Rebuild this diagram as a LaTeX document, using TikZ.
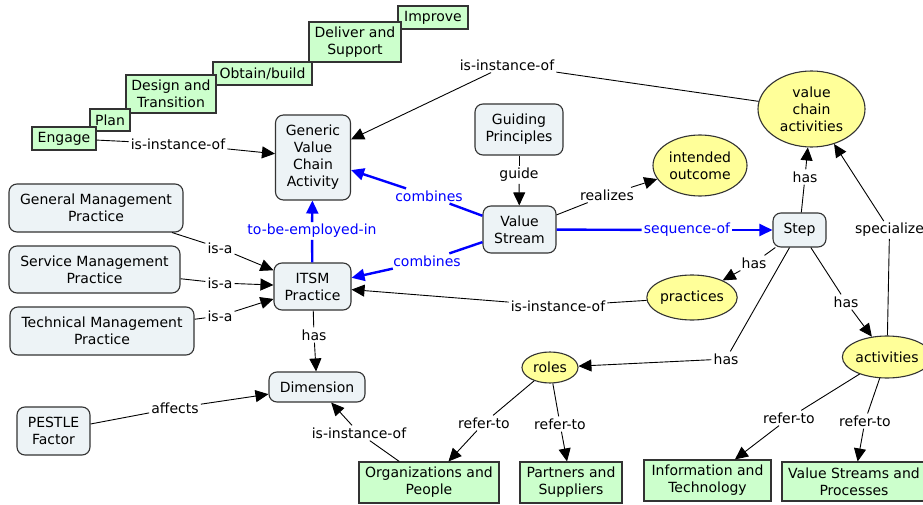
\documentclass[tikz,border=0pt]{standalone}
\usepackage{fontspec}
\setmainfont{DejaVu Sans}
\usetikzlibrary{arrows.meta,shapes.geometric}
\definecolor{conceptfill}{HTML}{EDF3F6}
\definecolor{phasegreen}{HTML}{CCFFCC}
\definecolor{ideayellow}{HTML}{FFFF99}
\definecolor{linkblue}{HTML}{0000FF}
\definecolor{framegray}{HTML}{333333}

\begin{document}
\begin{tikzpicture}[x=1pt,y=-1pt,
  every node/.style={font=\fontsize{14}{17}\selectfont, align=center, inner sep=0pt},
  concept/.style={draw=framegray, line width=1.1pt, fill=conceptfill, rounded corners=8pt},
  phase/.style={draw=framegray, line width=1.1pt, fill=phasegreen},
  idea/.style={draw=framegray, line width=1.1pt, fill=ideayellow, ellipse},
  lbl/.style={fill=white, inner sep=2pt},
  blbl/.style={lbl, text=linkblue},
  link/.style={draw=black, line width=0.9pt},
  arr/.style={link, -{Triangle[length=13pt,width=12pt]}},
  blink/.style={draw=linkblue, line width=2.4pt},
  barr/.style={blink, -{Triangle[length=13pt,width=12pt]}},
]
\path[use as bounding box, fill=white] (0,0) rectangle (923,505);

% value chain phases (staircase)
\node[phase, minimum width=70, minimum height=23] (improve) at (433,17.5) {Improve};
\node[phase, minimum width=92, minimum height=40] (deliver) at (355,42) {Deliver and\\Support};
\node[phase, minimum width=99, minimum height=23] (obtain) at (262.5,73.5) {Obtain/build};
\node[phase, minimum width=90, minimum height=38] (design) at (171,94) {Design and\\Transition};
\node[phase, minimum width=40, minimum height=22] (plan) at (110,120) {Plan};
\node[phase, minimum width=64, minimum height=23] (engage) at (64,138.5) {Engage};

% concepts
\node[concept, minimum width=75, minimum height=85] (gvca) at (313,157.5) {Generic\\Value\\Chain\\Activity};
\node[concept, minimum width=88, minimum height=51] (guiding) at (519,129.5) {Guiding\\Principles};
\node[concept, minimum width=73, minimum height=47] (vstream) at (519.5,229.5) {Value\\Stream};
\node[concept, minimum width=53, minimum height=34] (step) at (799.5,230) {Step};
\node[concept, minimum width=174, minimum height=48] (gmp) at (96,208) {General Management\\Practice};
\node[concept, minimum width=171, minimum height=47] (smp) at (94.5,269.5) {Service Management\\Practice};
\node[concept, minimum width=184, minimum height=48] (tmp) at (102,331) {Technical Management\\Practice};
\node[concept, minimum width=77, minimum height=47] (itsm) at (312.5,286.5) {ITSM\\Practice};
\node[concept, minimum width=96, minimum height=30] (dimension) at (317,387) {Dimension};
\node[concept, minimum width=73, minimum height=48] (pestle) at (53.5,431) {PESTLE\\Factor};

% yellow ideas
\node[idea, minimum width=94, minimum height=61] (outcome) at (700,165.5) {intended\\outcome};
\node[idea, minimum width=107, minimum height=76] (vca) at (811.5,109) {value\\chain\\activities};
\node[idea, minimum width=86, minimum height=45] (practices) at (692,297.5) {practices};
\node[idea, minimum width=56, minimum height=31] (roles) at (550,367.5) {roles};
\node[idea, minimum width=84, minimum height=42] (activities) at (887,357) {activities};

% four dimensions
\node[phase, minimum width=140, minimum height=41] (orgs) at (429,482.5) {Organizations and\\People};
\node[phase, minimum width=102, minimum height=41] (partners) at (571,482.5) {Partners and\\Suppliers};
\node[phase, minimum width=127, minimum height=41] (infotech) at (707.5,480.5) {Information and\\Technology};
\node[phase, minimum width=144, minimum height=39] (vsp) at (854,481.5) {Value Streams and\\Processes};

% link labels
\node[lbl] (l-engage) at (178,144) {is-instance-of};
\node[lbl] (l-vca) at (507,65) {is-instance-of};
\node[blbl] (l-comb1) at (429,196) {combines};
\node[blbl] (l-comb2) at (427,261) {combines};
\node[blbl] (l-employ) at (312,231) {to-be-employed-in};
\node[lbl] (l-guide) at (519,175) {guide};
\node[lbl] (l-realizes) at (607,195) {realizes};
\node[blbl] (l-seq) at (687,230) {sequence-of};
\node[lbl] (l-hasvca) at (805,177) {has};
\node[lbl] (l-spec) at (889.5,230) {specialize};
\node[lbl] (l-hasprac) at (754,263) {has};
\node[lbl] (l-hasact) at (846,302) {has};
\node[lbl] (l-hasroles) at (726,359) {has};
\node[lbl] (l-prac) at (558,306) {is-instance-of};
\node[lbl] (l-hasdim) at (314,335) {has};
\node[lbl] (l-isa1) at (220,248) {is-a};
\node[lbl] (l-isa2) at (220,283) {is-a};
\node[lbl] (l-isa3) at (220,316) {is-a};
\node[lbl] (l-affects) at (175,408) {affects};
\node[lbl] (l-orgs) at (359,433) {is-instance-of};
\node[lbl] (l-ref1) at (484,423) {refer-to};
\node[lbl] (l-ref2) at (560,424) {refer-to};
\node[lbl] (l-ref3) at (789,418) {refer-to};
\node[lbl] (l-ref4) at (865,421) {refer-to};

% black links
\draw[link] (engage) -- (l-engage); \draw[arr] (l-engage) -- (gvca);
\draw[link] (vca) -- (l-vca); \draw[arr] (l-vca) -- (gvca);
\draw[link] (guiding) -- (l-guide); \draw[arr] (l-guide) -- (vstream);
\draw[link] (vstream) -- (l-realizes); \draw[arr] (l-realizes) -- (outcome);
\draw[link] (step) -- (l-hasvca); \draw[arr] (l-hasvca) -- (vca);
\draw[link] (activities) -- (l-spec); \draw[arr] (l-spec) -- (vca);
\draw[link] (step) -- (l-hasprac); \draw[arr] (l-hasprac) -- (practices);
\draw[link] (step) -- (l-hasact); \draw[arr] (l-hasact) -- (activities);
\draw[link] (step) -- (l-hasroles); \draw[arr] (l-hasroles) -- (roles);
\draw[link] (practices) -- (l-prac); \draw[arr] (l-prac) -- (itsm);
\draw[link] (itsm) -- (l-hasdim); \draw[arr] (l-hasdim) -- (dimension);
\draw[link] (gmp) -- (l-isa1); \draw[arr] (l-isa1) -- (itsm);
\draw[link] (smp) -- (l-isa2); \draw[arr] (l-isa2) -- (itsm);
\draw[link] (tmp) -- (l-isa3); \draw[arr] (l-isa3) -- (itsm);
\draw[link] (pestle) -- (l-affects); \draw[arr] (l-affects) -- (dimension);
\draw[link] (orgs) -- (l-orgs); \draw[arr] (l-orgs) -- (dimension);
\draw[link] (roles) -- (l-ref1); \draw[arr] (l-ref1) -- (orgs);
\draw[link] (roles) -- (l-ref2); \draw[arr] (l-ref2) -- (partners);
\draw[link] (activities) -- (l-ref3); \draw[arr] (l-ref3) -- (infotech);
\draw[link] (activities) -- (l-ref4); \draw[arr] (l-ref4) -- (vsp);

% blue links
\draw[blink] (vstream) -- (l-comb1); \draw[barr] (l-comb1) -- (gvca);
\draw[blink] (vstream) -- (l-comb2); \draw[barr] (l-comb2) -- (itsm);
\draw[blink] (itsm) -- (l-employ); \draw[barr] (l-employ) -- (gvca);
\draw[blink] (vstream) -- (l-seq); \draw[barr] (l-seq) -- (step);
\end{tikzpicture}
\end{document}
